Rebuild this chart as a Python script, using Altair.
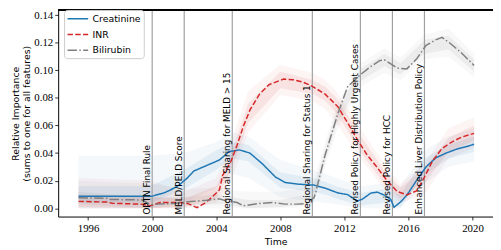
import altair as alt
import pandas as pd

# ---------------- data ----------------
series_names = ["Creatinine", "INR", "Bilirubin"]
series_colors = ["#1f77b4", "#d62728", "#7f7f7f"]
series_dashes = [[1, 0], [5.5, 2.4], [9.6, 2.4, 1.5, 2.4]]

creat_years = [1995.4, 1996.5, 1997.5, 1998.5, 1999.5, 2000.0, 2000.7, 2001.1, 2001.7, 2002.2,
               2002.6, 2003.4, 2004.2, 2004.8, 2005.45, 2006.1, 2006.9, 2007.7, 2008.3, 2009.1,
               2010.1, 2010.8, 2011.6, 2012.2, 2012.8, 2013.1, 2013.65, 2014.05, 2014.5, 2014.9,
               2015.1, 2015.5, 2015.9, 2016.5, 2017.1, 2017.7, 2018.35, 2019.0, 2019.6, 2020.1]
creat_vals = [0.0087, 0.0087, 0.0087, 0.0087, 0.0087, 0.0088, 0.011, 0.013, 0.017, 0.022,
              0.027, 0.031, 0.035, 0.041, 0.0423, 0.040, 0.032, 0.0226, 0.0187, 0.0175,
              0.0168, 0.0146, 0.0111, 0.0099, 0.0053, 0.0064, 0.011, 0.0117, 0.0095, 0.0064,
              0.0007, 0.0045, 0.0095, 0.020, 0.030, 0.0365, 0.040, 0.0428, 0.0446, 0.0464]

inr_years = [1995.4, 1997.2, 1997.5, 1999.3, 1999.9, 2000.5, 2001.3, 2001.8, 2002.2, 2002.8,
             2003.4, 2004.0, 2004.2, 2004.4, 2004.9, 2005.3, 2005.7, 2006.1, 2006.7, 2007.3,
             2008.2, 2008.8, 2009.4, 2010.0, 2010.8, 2011.6, 2012.2, 2012.8, 2013.4, 2014.05,
             2014.65, 2015.3, 2015.9, 2016.5, 2016.9, 2017.5, 2018.1, 2018.7, 2019.3, 2020.1]
inr_vals = [0.0050, 0.0045, 0.0036, 0.0030, 0.0018, 0.0042, 0.0042, 0.0042, 0.0035, 0.0005,
            0.0045, 0.011, 0.0134, 0.024, 0.0335, 0.0457, 0.0596, 0.0711, 0.0827, 0.0896,
            0.0936, 0.0931, 0.0915, 0.0884, 0.0827, 0.0735, 0.062, 0.050, 0.039, 0.0295,
            0.0203, 0.0122, 0.0097, 0.0125, 0.0203, 0.0342, 0.0434, 0.048, 0.0515, 0.0543]

bili_years = [1995.4, 1997.2, 1997.4, 1999.4, 1999.9, 2000.3, 2001.4, 2002.4, 2003.4, 2004.2,
              2004.6, 2005.3, 2005.7, 2006.7, 2007.5, 2008.3, 2009.1, 2009.6, 2009.9, 2010.1,
              2010.2, 2010.8, 2011.6, 2012.2, 2012.9, 2013.6, 2014.2, 2014.5, 2014.9, 2015.3,
              2015.9, 2016.5, 2017.1, 2017.7, 2018.1, 2018.6, 2019.3, 2020.1]
bili_vals = [0.0076, 0.0072, 0.0064, 0.0060, 0.0025, 0.0030, 0.0035, 0.0049, 0.0058, 0.0068,
             0.0055, 0.0042, 0.0018, 0.0035, 0.0042, 0.0030, 0.0030, 0.0035, 0.0060, 0.0076,
             0.011, 0.0388, 0.0688, 0.088, 0.0958, 0.1023, 0.107, 0.1076, 0.1046, 0.1016,
             0.101, 0.1081, 0.118, 0.122, 0.1238, 0.1196, 0.1127, 0.1035]

# spread of the many bootstrap runs (outer envelope and dense core)
band_years = [1995.4, 1999.9, 2002.0, 2004.0, 2004.5, 2005.0, 2006.0, 2008.0, 2010.0, 2010.8,
              2011.5, 2013.0, 2014.5, 2015.5, 2017.0, 2018.5, 2020.1]
creat_outer_lo = [0.0, 0.0, 0.004, 0.015, 0.020, 0.025, 0.022, 0.008, 0.005, 0.004, 0.003, 0.0, 0.0, 0.0, 0.018, 0.030, 0.034]
creat_outer_hi = [0.038, 0.038, 0.040, 0.048, 0.052, 0.055, 0.052, 0.035, 0.028, 0.025, 0.022, 0.016, 0.018, 0.016, 0.042, 0.052, 0.058]
creat_inner_lo = [0.004, 0.004, 0.014, 0.028, 0.032, 0.036, 0.034, 0.015, 0.012, 0.010, 0.007, 0.002, 0.004, 0.001, 0.024, 0.036, 0.041]
creat_inner_hi = [0.016, 0.016, 0.028, 0.042, 0.045, 0.048, 0.046, 0.026, 0.022, 0.019, 0.016, 0.011, 0.014, 0.010, 0.036, 0.046, 0.052]
inr_outer_lo = [0.0, 0.0, 0.0, 0.004, 0.012, 0.022, 0.055, 0.082, 0.078, 0.072, 0.062, 0.036, 0.014, 0.004, 0.010, 0.036, 0.044]
inr_outer_hi = [0.022, 0.020, 0.012, 0.022, 0.035, 0.050, 0.085, 0.104, 0.098, 0.093, 0.085, 0.058, 0.032, 0.018, 0.032, 0.058, 0.066]
inr_inner_lo = [0.001, 0.0, 0.001, 0.007, 0.018, 0.030, 0.062, 0.087, 0.083, 0.078, 0.069, 0.041, 0.017, 0.007, 0.018, 0.041, 0.049]
inr_inner_hi = [0.010, 0.008, 0.007, 0.016, 0.028, 0.042, 0.076, 0.099, 0.093, 0.088, 0.080, 0.053, 0.027, 0.015, 0.029, 0.051, 0.060]
bili_outer_lo = [0.0, 0.0, 0.0, 0.0, 0.0, 0.0, 0.0, 0.0, 0.001, 0.030, 0.055, 0.088, 0.098, 0.093, 0.108, 0.110, 0.095]
bili_outer_hi = [0.020, 0.018, 0.014, 0.015, 0.015, 0.013, 0.012, 0.012, 0.016, 0.048, 0.075, 0.105, 0.116, 0.109, 0.126, 0.130, 0.112]
bili_inner_lo = [0.003, 0.0, 0.002, 0.003, 0.003, 0.002, 0.0, 0.001, 0.003, 0.034, 0.060, 0.092, 0.103, 0.097, 0.112, 0.115, 0.099]
bili_inner_hi = [0.012, 0.008, 0.008, 0.010, 0.009, 0.008, 0.006, 0.006, 0.011, 0.043, 0.070, 0.101, 0.112, 0.105, 0.122, 0.125, 0.108]

event_years = [2000.0, 2002.0, 2005.0, 2010.0, 2013.0, 2015.0, 2017.0]
event_labels = ["OPTN Final Rule", "MELD/PELD Score", "Regional Sharing for MELD > 15",
                "Regional Sharing for Status 1", "Revised Policy for Highly Urgent Cases",
                "Revised Policy for HCC", "Enhanced Liver Distribution Policy"]

x_ticks = [1996, 2000, 2004, 2008, 2012, 2016, 2020]
y_ticks = [0.0, 0.02, 0.04, 0.06, 0.08, 0.10, 0.12, 0.14]

# ---------------- tables ----------------
lines_df = pd.concat([
    pd.DataFrame({"year": creat_years, "value": creat_vals, "series": "Creatinine"}),
    pd.DataFrame({"year": inr_years, "value": inr_vals, "series": "INR"}),
    pd.DataFrame({"year": bili_years, "value": bili_vals, "series": "Bilirubin"}),
], ignore_index=True)

bands = {
    "Creatinine": (creat_outer_lo, creat_outer_hi, creat_inner_lo, creat_inner_hi),
    "INR": (inr_outer_lo, inr_outer_hi, inr_inner_lo, inr_inner_hi),
    "Bilirubin": (bili_outer_lo, bili_outer_hi, bili_inner_lo, bili_inner_hi),
}

events_df = pd.DataFrame({"year": event_years, "label": event_labels})

# ---------------- chart ----------------
W, H = 442, 210
X_DOMAIN = [1994.13, 2021.28]
Y_DOMAIN = [-0.006, 0.1437]

x_enc = alt.X("year:Q",
              scale=alt.Scale(domain=X_DOMAIN, nice=False, zero=False),
              axis=alt.Axis(values=x_ticks, format="d", title="Time",
                            labelPadding=3, titlePadding=3))
y_enc = alt.Y("value:Q",
              scale=alt.Scale(domain=Y_DOMAIN, nice=False, zero=False),
              axis=alt.Axis(values=y_ticks, format=".2f", labelOverlap=False,
                            title=["Relative Importance", "(sums to one for all features)"],
                            titleLineHeight=12, labelPadding=2, titlePadding=2))
col_scale = alt.Scale(domain=series_names, range=series_colors)

band_layers = []
for level, (i_lo, i_hi, op) in enumerate([(0, 1, 0.05), (2, 3, 0.09)]):
    for name, colr in zip(series_names, series_colors):
        arrs = bands[name]
        df = pd.DataFrame({"year": band_years, "value": arrs[i_lo], "hi": arrs[i_hi]})
        band_layers.append(
            alt.Chart(df).mark_area(opacity=op, color=colr).encode(
                x=x_enc, y=y_enc, y2="hi:Q"))

rules = alt.Chart(events_df).mark_rule(color="#a0a0a0", strokeWidth=1.2).encode(x=x_enc)

leg = dict(title=None, orient="none", legendX=6, legendY=0)
lines = alt.Chart(lines_df).mark_line(strokeWidth=1.5).encode(
    x=x_enc, y=y_enc,
    color=alt.Color("series:N", scale=col_scale, sort=series_names, legend=alt.Legend(**leg)),
    strokeDash=alt.StrokeDash("series:N", scale=alt.Scale(domain=series_names, range=series_dashes),
                              sort=series_names, legend=alt.Legend(**leg)),
)

texts = alt.Chart(events_df).mark_text(angle=270, align="left", baseline="bottom", dx=-1,
                                       font="DejaVu Sans", fontSize=9, color="black").encode(
    x=x_enc, y=alt.value(H - 3), text="label:N")

top = alt.Chart(events_df).mark_rule(color="black", strokeWidth=1).encode(
    x=alt.value(0), x2=alt.value(W), y=alt.value(0))

chart = alt.layer(*band_layers, rules, lines, texts, top).properties(
    width=W, height=H,
    padding={"left": 51, "top": 0, "right": 0, "bottom": 32},
    autosize=alt.AutoSizeParams(type="none"),
).configure_view(stroke=None).configure_axis(
    grid=False, domainColor="black", tickColor="black", domainWidth=1, tickWidth=0.8,
    tickSize=3.5, labelColor="black", titleColor="black",
    labelFont="Liberation Serif", labelFontSize=11,
    titleFont="DejaVu Sans", titleFontSize=9.5, titleFontWeight="normal",
).configure_legend(
    symbolType="M-2.1,0H2.1", symbolSize=100, symbolStrokeWidth=1.5, symbolOffset=5,
    labelFont="DejaVu Sans", labelFontSize=9.5, labelColor="black",
    fillColor="rgba(255,255,255,0.85)", strokeColor="#cccccc", cornerRadius=3,
    padding=3, rowPadding=5, labelOffset=9,
)

chart.save("out.html", embed_options={"renderer": "svg", "actions": False})
